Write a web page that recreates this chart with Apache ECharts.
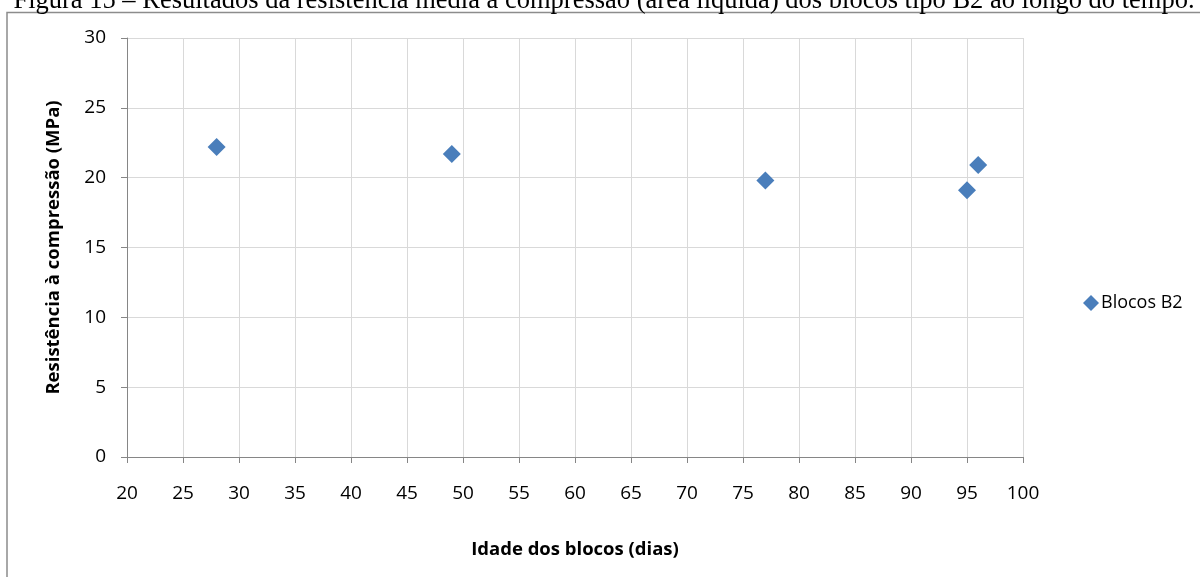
<!DOCTYPE html>
<html>
<head>
<meta charset="utf-8">
<script src="https://cdn.jsdelivr.net/npm/echarts@6/dist/echarts.min.js"></script>
<style>
html,body{margin:0;padding:0;background:#fff;}
#c{width:1200px;height:577px;}
</style>
</head>
<body>
<div id="c"></div>
<script>
const titleText = 'Figura 15 – Resultados da resistência média à compressão (área líquida) dos blocos tipo B2 ao longo do tempo.';
const seriesName = 'Blocos B2';
const ages = [28, 49, 77, 95, 96];
const strengths = [22.2, 21.7, 19.8, 19.1, 20.9];
const xAxisTitle = 'Idade dos blocos (dias)';
const yAxisTitle = 'Resistência à compressão (MPa)';

const chart = echarts.init(document.getElementById('c'));
const font = 'Open Sans';
chart.setOption({
  animation: false,
  backgroundColor: '#fff',
  graphic: [
    {type: 'rect', shape: {x: 7, y: 12.5, width: 1300, height: 700}, style: {fill: 'none', stroke: '#8c8c8c', lineWidth: 1.5}, z: -1},
    {type: 'text', x: 604, y: -12, style: {text: titleText, font: '26.5px "Liberation Serif"', fill: '#000', align: 'center', verticalAlign: 'top'}}
  ],
  grid: {left: 127, right: 177, top: 38, bottom: 120, containLabel: false},
  legend: {
    data: [{name: seriesName, icon: 'diamond'}],
    left: 1078, top: 289, itemWidth: 16, itemHeight: 16, itemGap: 6,
    itemStyle: {opacity: 1},
    textStyle: {fontFamily: font, fontSize: 18, color: '#000', padding: [0, 0, 0, -3]}
  },
  xAxis: {
    type: 'value', min: 20, max: 100, interval: 5,
    name: xAxisTitle, nameLocation: 'middle', nameGap: 83,
    nameTextStyle: {fontFamily: font, fontSize: 18.5, fontWeight: 'bold', color: '#000'},
    axisLine: {lineStyle: {color: '#868686', width: 1}},
    axisTick: {show: true, length: 6, lineStyle: {color: '#868686'}},
    axisLabel: {fontFamily: font, fontSize: 19, color: '#000', margin: 27},
    splitLine: {show: true, lineStyle: {color: '#d9d9d9', width: 1}}
  },
  yAxis: {
    type: 'value', min: 0, max: 30, interval: 5,
    name: yAxisTitle, nameLocation: 'middle', nameGap: 64, nameRotate: 90,
    nameTextStyle: {fontFamily: font, fontSize: 18.5, fontWeight: 'bold', color: '#000'},
    axisLine: {show: true, lineStyle: {color: '#868686', width: 1}},
    axisTick: {show: true, length: 6, lineStyle: {color: '#868686'}},
    axisLabel: {fontFamily: font, fontSize: 19, color: '#000', margin: 21},
    splitLine: {show: true, lineStyle: {color: '#d9d9d9', width: 1}}
  },
  series: [{
    name: seriesName, type: 'scatter', symbol: 'diamond', symbolSize: 18,
    itemStyle: {color: '#4a7ebb', opacity: 1},
    data: ages.map((a, i) => [a, strengths[i]])
  }]
});
</script>
</body>
</html>
